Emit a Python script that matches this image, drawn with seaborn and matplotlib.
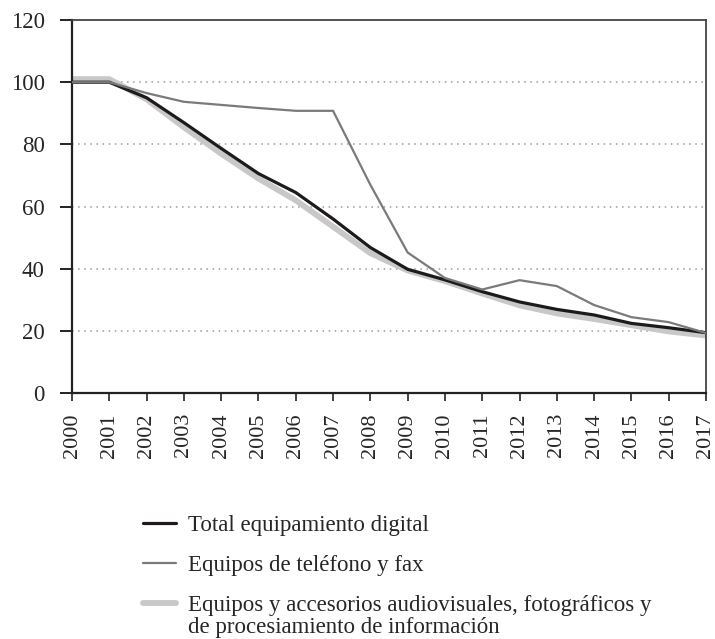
import pandas as pd
import matplotlib.pyplot as plt
import seaborn as sns

# Index values (2000 = 100)
years = list(range(2000, 2018))
total_digital = [100, 100, 95, 87, 78.7, 70.6, 64.5, 56, 46.8, 39.8,
                 36.4, 32.6, 29.3, 26.9, 25.1, 22.4, 21, 19.4]
telefono_fax = [100, 100, 96.5, 93.7, 92.7, 91.7, 90.8, 90.8, 67, 45.2,
                37, 33.3, 36.3, 34.4, 28.3, 24.4, 22.8, 19.3]
audiovisuales = [101, 101, 94.5, 85.5, 77, 69, 62, 53.5, 45, 39.4,
                 36, 32, 28.2, 25.6, 23.8, 21.8, 19.8, 18.5]

labels = ["Total equipamiento digital",
          "Equipos de teléfono y fax",
          "Equipos y accesorios audiovisuales, fotográficos y"]
label_cont = "de procesiamiento de información"

df = pd.DataFrame({"year": years, "total": total_digital,
                   "tel": telefono_fax, "av": audiovisuales})

sns.set_style("white")
plt.rcParams["font.family"] = ["Liberation Serif", "DejaVu Serif"]

fig = plt.figure(figsize=(7.15, 6.39), dpi=100)
ax = fig.add_axes([0.1007, 0.385, 0.8867, 0.5836])

sns.lineplot(data=df, x="year", y="av", color="#c8c8c8", lw=4.2, ax=ax,
             zorder=2, label=labels[2])
sns.lineplot(data=df, x="year", y="total", color="#1e1a1a", lw=2.3, ax=ax,
             zorder=3, label=labels[0])
sns.lineplot(data=df, x="year", y="tel", color="#7a7a7a", lw=1.6, ax=ax,
             zorder=4, label=labels[1])

ax.set_xlim(2000, 2017)
ax.set_ylim(0, 120)
ax.set_xticks(years)
ax.set_xticklabels([str(y) for y in years], rotation=90)
ax.set_yticks([0, 20, 40, 60, 80, 100, 120])
ax.set_xlabel("")
ax.set_ylabel("")

for y in [20, 40, 60, 80, 100]:
    ax.axhline(y, color="#9a9a9a", lw=1.1, ls=(0, (1, 3)), zorder=1)

for s in ["left", "bottom"]:
    ax.spines[s].set_color("#222222")
    ax.spines[s].set_linewidth(1.6)
for s in ["top", "right"]:
    ax.spines[s].set_color("#444444")
    ax.spines[s].set_linewidth(1.3)

ax.tick_params(axis="y", direction="out", length=8.6, width=1.4,
               color="#222222", pad=11, labelsize=16.5, left=True)
ax.tick_params(axis="x", direction="out", length=5.5, width=1.2,
               color="#222222", pad=9, labelsize=16, bottom=True)

handles, lbls = ax.get_legend_handles_labels()
order = [1, 2, 0]
ax.get_legend().remove()
leg = fig.legend([handles[i] for i in order], [lbls[i] for i in order],
                 loc="upper left", bbox_to_anchor=(0.171, 0.226),
                 frameon=False, fontsize=16.5, handlelength=1.45,
                 handletextpad=0.52, labelspacing=0.82)

# second line of the last legend entry, aligned with the legend text
fig.canvas.draw()
bb = leg.get_texts()[2].get_window_extent().transformed(fig.transFigure.inverted())
fig.text(bb.x0, bb.y0 - 22 / 639, label_cont, fontsize=16.5, va="bottom",
         ha="left")

plt.savefig("out.png", dpi=100)
